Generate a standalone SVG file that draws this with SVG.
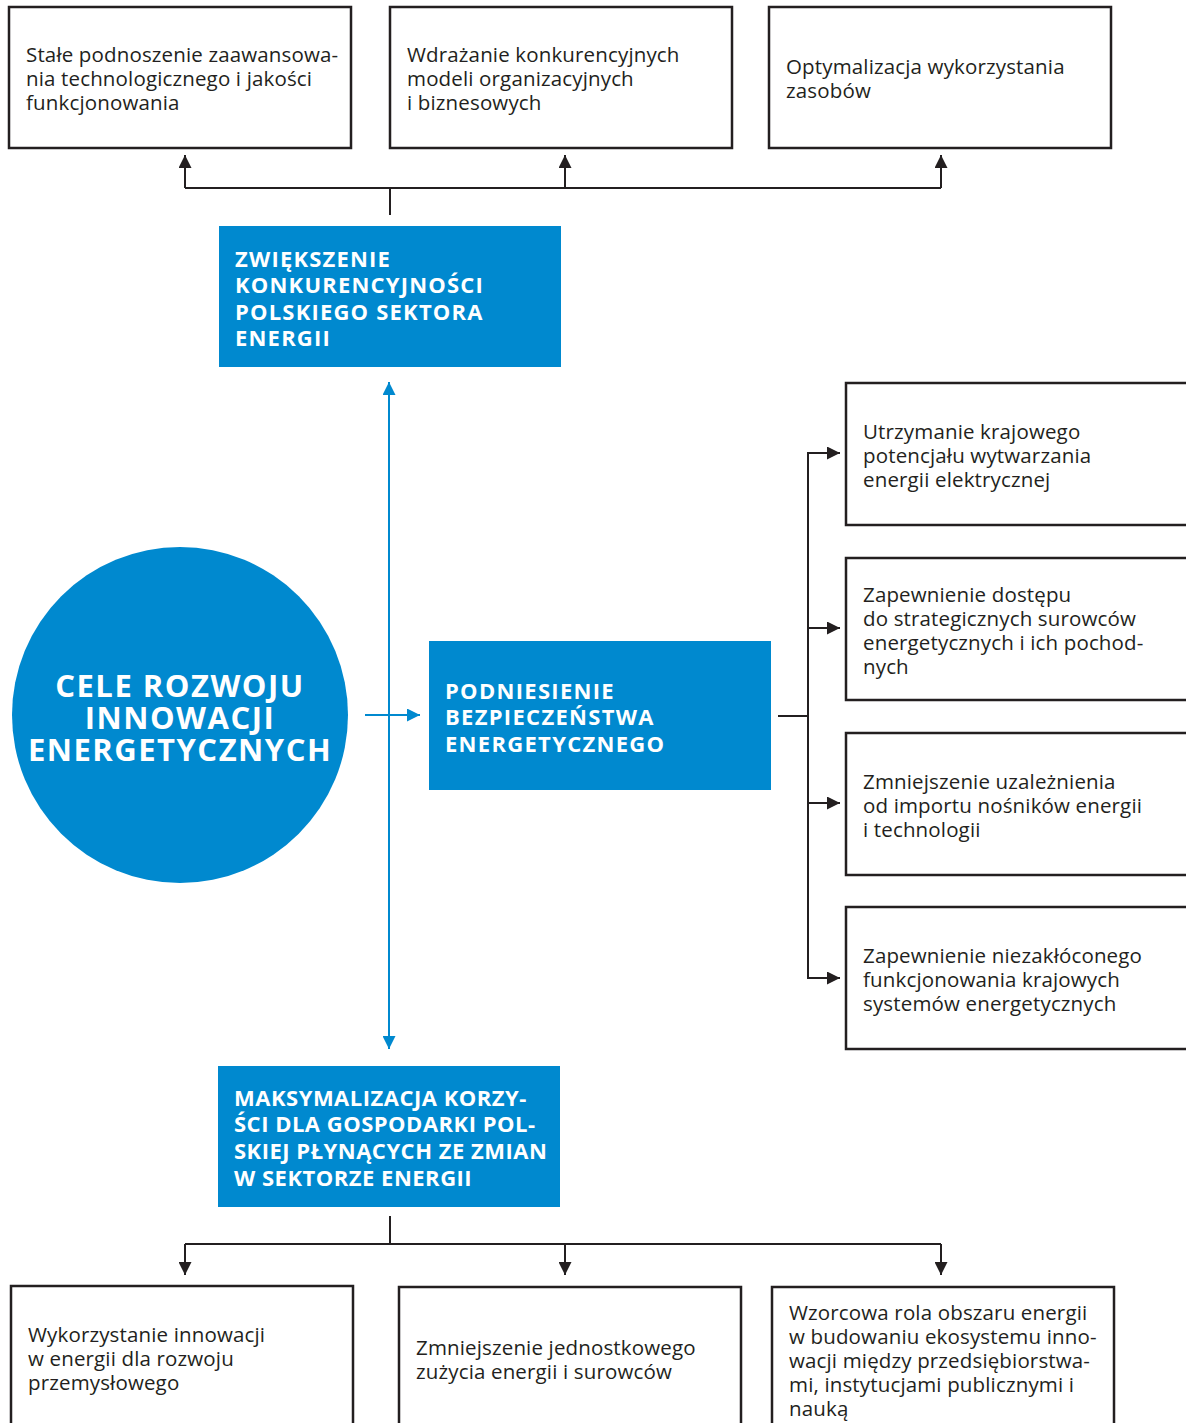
<svg xmlns="http://www.w3.org/2000/svg" width="1186" height="1423" viewBox="0 0 1186 1423">
<defs>
<style>
.box{fill:#fff;stroke:#231f20;stroke-width:2.5}
.blue{fill:#0089cf}
.t{font-family:"Open Sans","Liberation Sans",sans-serif;font-size:20.5px;letter-spacing:0.15px;fill:#231f20}
.b{font-family:"Open Sans","Liberation Sans",sans-serif;font-size:22px;font-weight:bold;fill:#fff;letter-spacing:1.2px}
.c{font-family:"Open Sans","Liberation Sans",sans-serif;font-size:31px;font-weight:bold;fill:#fff;letter-spacing:1.5px;text-anchor:middle}
.k{fill:none;stroke:#231f20;stroke-width:2}
.bl{fill:none;stroke:#0089cf;stroke-width:2}
</style>
<marker id="ab" viewBox="0 0 13 13" refX="13" refY="6.5" markerWidth="13" markerHeight="13" markerUnits="userSpaceOnUse" orient="auto-start-reverse"><path d="M0,0 L13,6.5 L0,13 z" fill="#0089cf"/></marker>
<marker id="ak2" viewBox="0 0 13 13" refX="13" refY="6.5" markerWidth="13" markerHeight="13" markerUnits="userSpaceOnUse" orient="auto"><path d="M0,0 L13,6.5 L0,13 z" fill="#231f20"/></marker>
</defs>
<g id="connectors">
<path class="k" d="M390,215 V188 M185,188 H941"/>
<path class="k" d="M185,188 V155" marker-end="url(#ak2)"/>
<path class="k" d="M565,188 V155" marker-end="url(#ak2)"/>
<path class="k" d="M941,188 V155" marker-end="url(#ak2)"/>
<path class="bl" d="M389,382 V1049" marker-start="url(#ab)" marker-end="url(#ab)"/>
<path class="bl" d="M365,715 H420" marker-end="url(#ab)"/>
<path class="k" d="M778,716 H808 M808,453 V978"/>
<path class="k" d="M807,453 H840" marker-end="url(#ak2)"/>
<path class="k" d="M807,628 H840" marker-end="url(#ak2)"/>
<path class="k" d="M807,803 H840" marker-end="url(#ak2)"/>
<path class="k" d="M807,978 H840" marker-end="url(#ak2)"/>
<path class="k" d="M390,1216 V1244 M185,1244 H941"/>
<path class="k" d="M185,1244 V1275" marker-end="url(#ak2)"/>
<path class="k" d="M565,1244 V1275" marker-end="url(#ak2)"/>
<path class="k" d="M941,1244 V1275" marker-end="url(#ak2)"/>
</g>
<g id="top1"><rect class="box" x="9" y="7" width="342" height="141"/>
<text class="t"><tspan x="26" y="62">Stałe podnoszenie zaawansowa-</tspan><tspan x="26" y="86">nia technologicznego i jakości</tspan><tspan x="26" y="110">funkcjonowania</tspan></text></g>
<g id="top2"><rect class="box" x="390" y="7" width="342" height="141"/>
<text class="t"><tspan x="407" y="62">Wdrażanie konkurencyjnych</tspan><tspan x="407" y="86">modeli organizacyjnych</tspan><tspan x="407" y="110">i biznesowych</tspan></text></g>
<g id="top3"><rect class="box" x="769" y="7" width="342" height="141"/>
<text class="t"><tspan x="786" y="74">Optymalizacja wykorzystania</tspan><tspan x="786" y="98">zasobów</tspan></text></g>
<g id="goal1"><rect class="blue" x="219" y="226" width="342" height="141"/>
<text class="b"><tspan x="235" y="267">ZWIĘKSZENIE</tspan><tspan x="235" y="293">KONKURENCYJNOŚCI</tspan><tspan x="235" y="320">POLSKIEGO SEKTORA</tspan><tspan x="235" y="346">ENERGII</tspan></text></g>
<g id="center"><circle class="blue" cx="180" cy="715" r="168"/>
<text class="c"><tspan x="180" y="697">CELE ROZWOJU</tspan><tspan x="180" y="729">INNOWACJI</tspan><tspan x="180" y="761">ENERGETYCZNYCH</tspan></text></g>
<g id="goal2"><rect class="blue" x="429" y="641" width="342" height="149"/>
<text class="b" style="letter-spacing:1.3px"><tspan x="445" y="699">PODNIESIENIE</tspan><tspan x="445" y="725">BEZPIECZEŃSTWA</tspan><tspan x="445" y="752">ENERGETYCZNEGO</tspan></text></g>
<g id="goal3"><rect class="blue" x="218" y="1066" width="342" height="141"/>
<text class="b" style="letter-spacing:0.5px"><tspan x="234" y="1106">MAKSYMALIZACJA KORZY-</tspan><tspan x="234" y="1132">ŚCI DLA GOSPODARKI POL-</tspan><tspan x="234" y="1159">SKIEJ PŁYNĄCYCH ZE ZMIAN</tspan><tspan x="234" y="1186">W SEKTORZE ENERGII</tspan></text></g>
<g id="r1"><rect class="box" x="846" y="383" width="345" height="142"/>
<text class="t"><tspan x="863" y="439">Utrzymanie krajowego</tspan><tspan x="863" y="463">potencjału wytwarzania</tspan><tspan x="863" y="487">energii elektrycznej</tspan></text></g>
<g id="r2"><rect class="box" x="846" y="558" width="345" height="142"/>
<text class="t"><tspan x="863" y="602">Zapewnienie dostępu</tspan><tspan x="863" y="626">do strategicznych surowców</tspan><tspan x="863" y="650">energetycznych i ich pochod-</tspan><tspan x="863" y="674">nych</tspan></text></g>
<g id="r3"><rect class="box" x="846" y="733" width="345" height="142"/>
<text class="t"><tspan x="863" y="789">Zmniejszenie uzależnienia</tspan><tspan x="863" y="813">od importu nośników energii</tspan><tspan x="863" y="837">i technologii</tspan></text></g>
<g id="r4"><rect class="box" x="846" y="907" width="345" height="142"/>
<text class="t"><tspan x="863" y="963">Zapewnienie niezakłóconego</tspan><tspan x="863" y="987">funkcjonowania krajowych</tspan><tspan x="863" y="1011">systemów energetycznych</tspan></text></g>
<g id="b1"><rect class="box" x="11" y="1286" width="342" height="150"/>
<text class="t"><tspan x="28" y="1342">Wykorzystanie innowacji</tspan><tspan x="28" y="1366">w energii dla rozwoju</tspan><tspan x="28" y="1390">przemysłowego</tspan></text></g>
<g id="b2"><rect class="box" x="399" y="1287" width="342" height="150"/>
<text class="t"><tspan x="416" y="1355">Zmniejszenie jednostkowego</tspan><tspan x="416" y="1379">zużycia energii i surowców</tspan></text></g>
<g id="b3"><rect class="box" x="772" y="1287" width="342" height="150"/>
<text class="t"><tspan x="789" y="1320">Wzorcowa rola obszaru energii</tspan><tspan x="789" y="1344">w budowaniu ekosystemu inno-</tspan><tspan x="789" y="1368">wacji między przedsiębiorstwa-</tspan><tspan x="789" y="1392">mi, instytucjami publicznymi i</tspan><tspan x="789" y="1416">nauką</tspan></text></g>
</svg>
